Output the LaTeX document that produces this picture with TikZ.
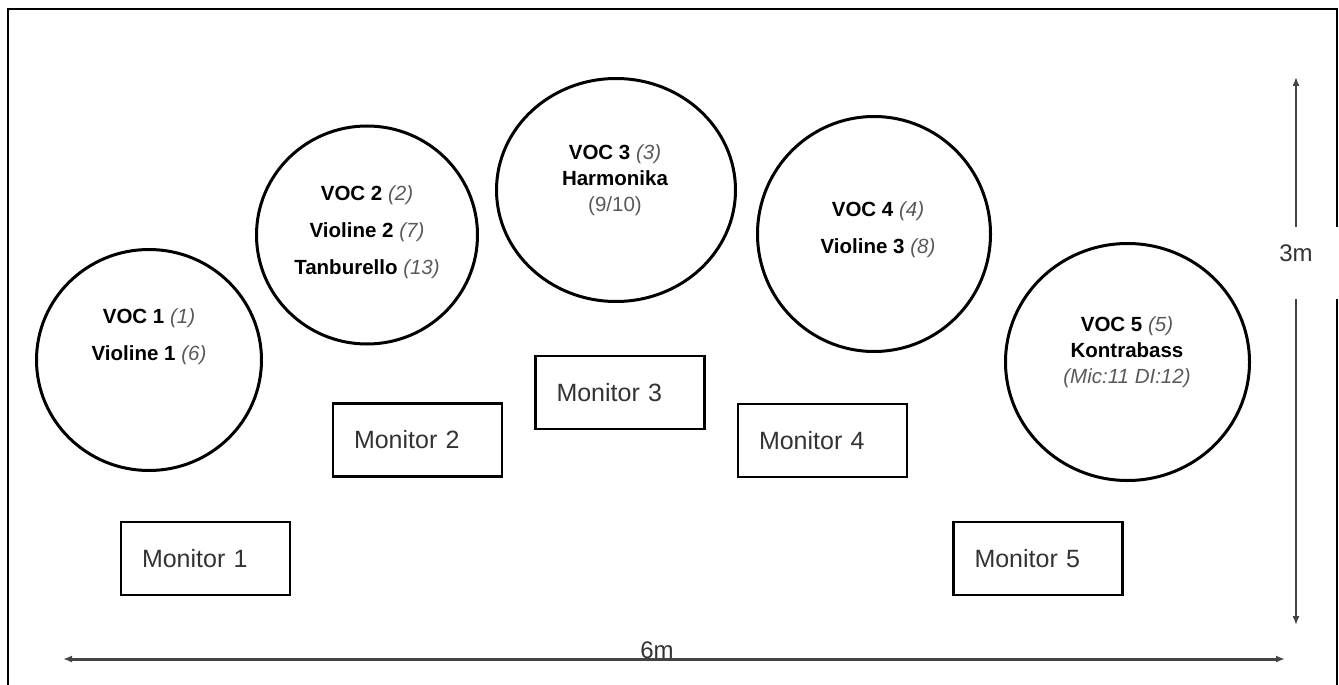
\documentclass[tikz,border=0pt]{standalone}
\usepackage{fontspec}
\setmainfont{Liberation Sans}
\usepackage{tikz}
\usetikzlibrary{positioning,shapes.geometric,arrows.meta}
\definecolor{numgray}{HTML}{595959}
\definecolor{textgray}{HTML}{333333}
\definecolor{linegray}{HTML}{444444}
\newcommand{\chan}[1]{{\mdseries\itshape\color{numgray}#1}}

\begin{document}
\begin{tikzpicture}[x=1pt,y=-1pt,
        stand node/.style={ellipse, draw, line width=3pt, inner sep=0pt},
        names/.style={align=center, font=\fontsize{20.5}{26}\selectfont\bfseries},
        monitor node/.style={rectangle, draw, line width=2.5pt, minimum height=73pt,
        text width=127pt, inner xsep=21pt, align=left, text=textgray,
        font=\fontsize{25}{30}\selectfont},
        size line/.style={draw=linegray, {Latex[length=9pt,width=7pt]}-{Latex[length=9pt,width=7pt]}},
        size label/.style={text=textgray, font=\fontsize{24}{29}\selectfont}
        ]
        \useasboundingbox (0,0) rectangle (1339,685);

        % stage frame, open at the bottom
        \draw [line width=2pt] (8,690) -- (8,9) -- (1337,9) -- (1337,690);

        % players
        \node [stand node, minimum width=225pt, minimum height=221pt] (v1) at (149,360) {};
        \node [stand node, minimum width=221pt, minimum height=218pt] (v2) at (367,235) {};
        \node [stand node, minimum width=239pt, minimum height=223pt] (v3) at (616,190) {};
        \node [stand node, minimum width=233pt, minimum height=235pt] (v4) at (874,234) {};
        \node [stand node, minimum width=244pt, minimum height=237pt] (v5) at (1127.5,362) {};

        \node [names] (n1) at (149,337) {VOC 1 \chan{(1)}\\[11pt]Violine 1 \chan{(6)}};
        \node [names] (n2) at (367,232) {VOC 2 \chan{(2)}\\[11pt]Violine 2 \chan{(7)}\\[11pt]Tanburello \chan{(13)}};
        \node [names] (n3) at (615,180) {VOC 3 \chan{(3)}\\Harmonika\\{\mdseries\color{numgray}(9/10)}};
        \node [names] (n4) at (878,230) {VOC 4 \chan{(4)}\\[11pt]Violine 3 \chan{(8)}};
        \node [names] (n5) at (1127,352) {VOC 5 \chan{(5)}\\Kontrabass\\\chan{(Mic:11 DI:12)}};

        % monitors
        \node [monitor node] (m1) at (205.5,558.5) {Monitor 1};
        \node [monitor node] (m2) at (417.5,440) {Monitor 2};
        \node [monitor node] (m3) at (620,392.5) {Monitor 3};
        \node [monitor node] (m4) at (822.5,440.5) {Monitor 4};
        \node [monitor node] (m5) at (1038,558.5) {Monitor 5};

        % sizes
        \coordinate (top end) at (1296,77);
        \coordinate (bottom end) at (1296,625);
        \coordinate (west end) at (63,659);
        \coordinate (east end) at (1285,659);

        \path [size line, line width=1.5pt] (top end) -- (bottom end);
        \path [size line, line width=3pt] (west end) -- (east end);

        \node [size label, fill=white, inner sep=0pt, minimum width=88pt,
        text height=34.6pt, text depth=37.4pt] (depth) at (1296,263) {3m};
        \node [size label, anchor=base] (width) at (657,658) {6m};
     \end{tikzpicture}
\end{document}
